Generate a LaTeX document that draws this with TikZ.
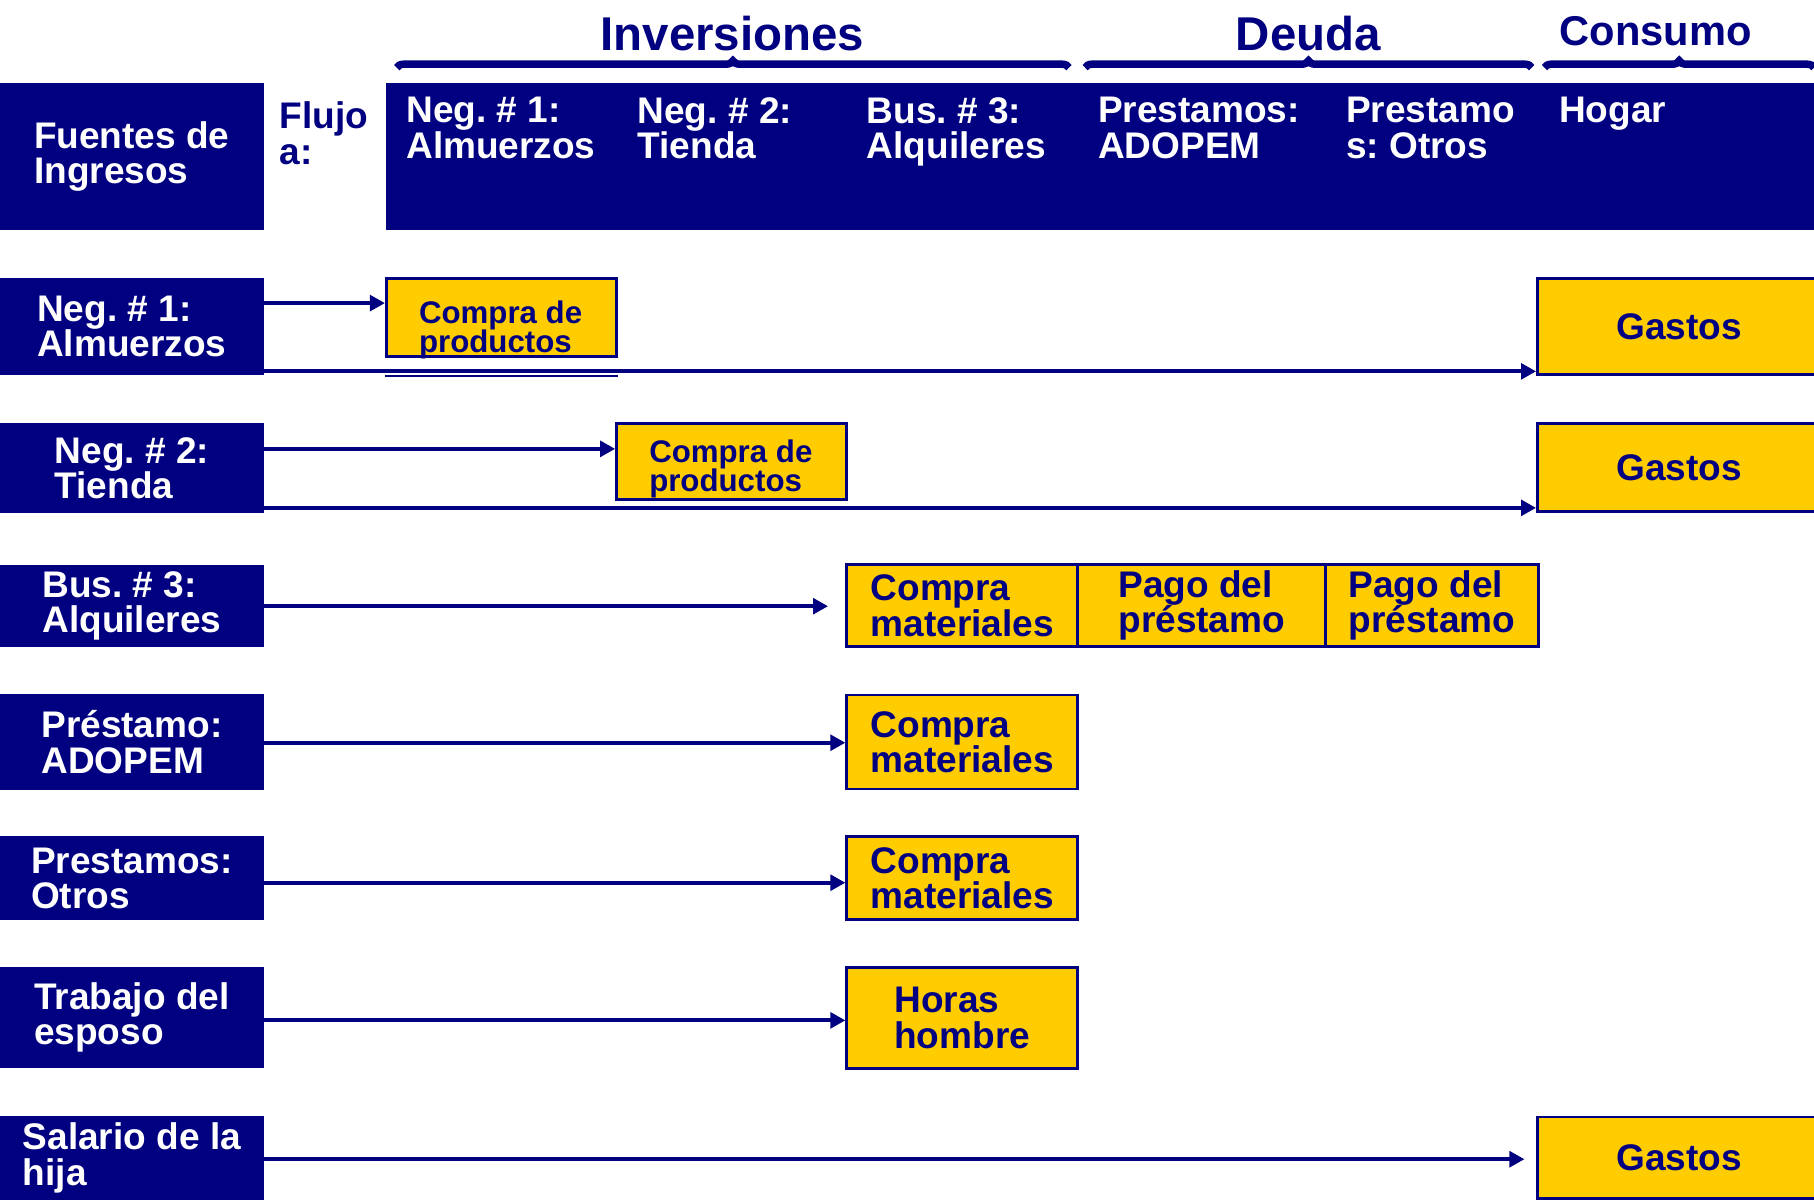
\documentclass[tikz,border=0pt]{standalone}
\usepackage{fontspec}
\setmainfont{Liberation Sans}
\usetikzlibrary{arrows.meta,decorations.pathreplacing}
\definecolor{navy}{RGB}{0,0,128}
\definecolor{gold}{RGB}{255,204,0}
\AtBeginDocument{\lineskiplimit=-100pt\lineskip=0pt\frenchspacing}
\begin{document}
\begin{tikzpicture}[x=1pt,y=-1pt,
  big/.style={font=\bfseries\fontsize{32}{30.5}\selectfont},
  src/.style={big, fill=navy, text=white, inner sep=0pt, align=left},
  hdrtext/.style={big, text=white, inner sep=0pt, align=left, anchor=north west},
  ybox/.style={big, fill=gold, draw=navy, line width=2.5pt, text=navy, inner sep=0pt, align=left},
  smalltext/.style={font=\bfseries\fontsize{27}{25}\selectfont, text=navy, inner sep=0pt, align=left, anchor=north west},
  arr/.style={draw=navy, line width=3.6pt, -{Triangle[length=13pt,width=13.5pt]}},
  bracestyle/.style={draw=navy, line width=6.5pt, decorate, decoration={brace, amplitude=6pt}},
  heading/.style={font=\bfseries\fontsize{41}{45}\selectfont, text=navy, inner sep=0pt, anchor=base}
]
\useasboundingbox (0,0) rectangle (1568,1038);
\fill[white] (0,0) rectangle (1568,1038);

% headings and braces
\node[heading] (inv) at (633,43.4) {Inversiones};
\node[heading] (deu) at (1131,43.4) {Deuda};
\node[heading, font=\bfseries\fontsize{36}{40}\selectfont] (con) at (1431,39) {Consumo};
\coordinate (b1a) at (343,58.5); \coordinate (b1b) at (924,58.5);
\coordinate (b2a) at (938,58.5); \coordinate (b2b) at (1324,58.5);
\coordinate (b3a) at (1335,58.5); \coordinate (b3b) at (1568,58.5);
\draw[bracestyle] (b1a) -- (b1b);
\draw[bracestyle] (b2a) -- (b2b);
\draw[bracestyle] (b3a) -- (b3b);

% header row
\node[src, minimum width=228pt, minimum height=127pt] (fuentes) at (114,135.5) {Fuentes de\\Ingresos};
\node[big, text=navy, inner sep=0pt, align=left, anchor=north west] (flujo) at (241.6,88) {Flujo\\a:};
\node[fill=navy, inner sep=0pt, minimum width=1246pt, minimum height=127pt] (hdr) at (957,135.5) {};
\node[hdrtext] (h1) at (351,84) {Neg. \# 1:\\Almuerzos};
\node[hdrtext] (h2) at (551,84) {Neg. \# 2:\\Tienda};
\node[hdrtext] (h3) at (749,84) {Bus. \# 3:\\Alquileres};
\node[hdrtext] (h4) at (949,84) {Prestamos:\\ADOPEM};
\node[hdrtext] (h5) at (1163.5,84) {Prestamo\\s: Otros};
\node[hdrtext] (h6) at (1347.5,84) {Hogar};

% source boxes
\node[src, minimum width=228pt, minimum height=84pt] (s1) at (114,282) {Neg. \# 1:\\Almuerzos};
\node[src, minimum width=228pt, minimum height=77pt] (s2) at (114,404.5) {Neg. \# 2:\\Tienda};
\node[src, minimum width=228pt, minimum height=71pt] (s3) at (114,523.5) {Bus. \# 3:\\Alquileres};
\node[src, minimum width=228pt, minimum height=83pt] (s4) at (114,641.5) {Préstamo:\\ADOPEM};
\node[src, minimum width=228pt, minimum height=72pt] (s5) at (114,759) {Prestamos:\\Otros};
\node[src, minimum width=228pt, minimum height=87pt] (s6) at (114,879.5) {Trabajo del\\esposo};
\node[src, minimum width=228pt, minimum height=72pt] (s7) at (114,1001) {Salario de la\\hija};

% yellow boxes
\node[ybox, minimum width=199pt, minimum height=67pt] (c1) at (433.5,274.5) {};
\node[smalltext] (c1t) at (362,259.5) {Compra de\\productos};
\draw[navy, line width=1.2pt] (c1.south west |- 0,325) -- (c1.south east |- 0,325);
\node[ybox, minimum width=245pt, minimum height=83pt] (g1) at (1451.5,282.5) {Gastos};

\node[ybox, minimum width=199pt, minimum height=66pt] (c2) at (632.5,399) {};
\node[smalltext] (c2t) at (561,380) {Compra de\\productos};
\node[ybox, minimum width=245pt, minimum height=76pt] (g2) at (1451.5,404) {Gastos};

\node[ybox, minimum width=199.5pt, minimum height=71pt] (m3) at (831.75,523.5) {Compra\\materiales};
\node[ybox, minimum width=214.5pt, minimum height=71pt] (p3a) at (1038.75,523.5) {Pago del\\préstamo};
\node[ybox, minimum width=183.5pt, minimum height=71pt] (p3b) at (1237.75,523.5) {Pago del\\préstamo};

\node[ybox, minimum width=199.5pt, minimum height=81.3pt] (m4) at (831.75,641.35) {Compra\\materiales};
\node[ybox, minimum width=199.5pt, minimum height=72pt] (m5) at (831.75,759) {Compra\\materiales};
\node[ybox, minimum width=199.5pt, minimum height=87.6pt] (h6b) at (831.75,879.8) {Horas\\hombre};
\node[ybox, minimum width=245pt, minimum height=70.5pt] (g7) at (1451.5,1000.75) {Gastos};

% arrows
\draw[arr] (s1.east |- 0,262) -- (c1.west |- 0,262);
\draw[arr] (s1.east |- 0,321) -- (g1.west |- 0,321);
\draw[arr] (s2.east |- 0,388) -- (c2.west |- 0,388);
\draw[arr] (s2.east |- 0,439) -- (g2.west |- 0,439);
\draw[arr, shorten >=15pt] (s3.east |- 0,524) -- (m3.west |- 0,524);
\draw[arr] (s4.east |- 0,642) -- (m4.west |- 0,642);
\draw[arr] (s5.east |- 0,763) -- (m5.west |- 0,763);
\draw[arr] (s6.east |- 0,882) -- (h6b.west |- 0,882);
\draw[arr, shorten >=10pt] (s7.east |- 0,1002) -- (g7.west |- 0,1002);
\end{tikzpicture}
\end{document}
